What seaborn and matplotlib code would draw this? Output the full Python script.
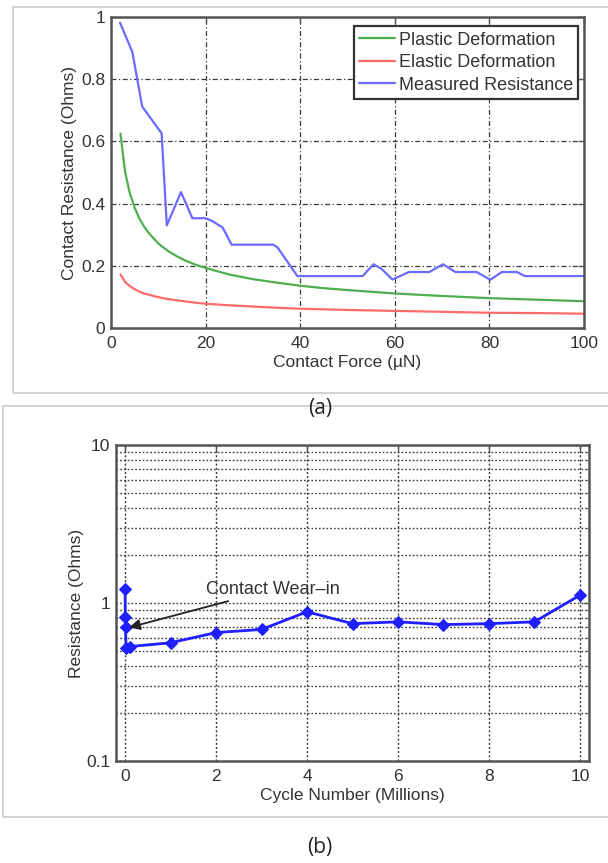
import matplotlib
matplotlib.use("Agg")
import matplotlib.pyplot as plt
from matplotlib.patches import Rectangle
from matplotlib.ticker import LogLocator, FixedLocator, NullFormatter, FixedFormatter
import seaborn as sns
import pandas as pd
import numpy as np

# ---- (a) contact resistance vs. contact force ----
force_model = [2, 3, 4, 5, 6, 7, 8, 10, 12, 14, 16, 18, 20, 25, 30, 35, 40, 45,
               50, 60, 70, 80, 90, 100]
plastic = [0.625, 0.500, 0.432, 0.387, 0.352, 0.326, 0.305, 0.272, 0.248, 0.230,
           0.215, 0.203, 0.193, 0.172, 0.157, 0.146, 0.136, 0.128, 0.122, 0.111,
           0.103, 0.096, 0.091, 0.086]
elastic = [0.172, 0.148, 0.134, 0.125, 0.117, 0.111, 0.107, 0.099, 0.093, 0.089,
           0.085, 0.081, 0.078, 0.073, 0.069, 0.065, 0.062, 0.060, 0.058, 0.055,
           0.052, 0.049, 0.048, 0.046]
force_meas = [1.9, 4.5, 6.6, 10.7, 11.8, 14.8, 17.2, 20.0, 21.4, 23.6, 25.5, 34.3,
              35.2, 39.4, 53.2, 55.5, 57.2, 59.5, 63.0, 67.3, 70.2, 72.8, 77.3,
              80.2, 82.6, 85.8, 87.5, 100]
measured = [0.982, 0.888, 0.712, 0.626, 0.330, 0.437, 0.353, 0.353, 0.344, 0.323,
            0.268, 0.268, 0.259, 0.167, 0.167, 0.205, 0.190, 0.156, 0.180, 0.180,
            0.205, 0.180, 0.180, 0.155, 0.180, 0.180, 0.167, 0.167]
series_names = ["Plastic Deformation", "Elastic Deformation", "Measured Resistance"]
series_colors = ["#4fae4f", "#ff6b6b", "#6b6bff"]
force_ticks = [0, 20, 40, 60, 80, 100]
res_ticks = [0, 0.2, 0.4, 0.6, 0.8, 1]
res_tick_labels = ["0", "0.2", "0.4", "0.6", "0.8", "1"]

# ---- (b) resistance vs. cycle number ----
cycles = [0, 0.005, 0.01, 0.02, 0.1, 1, 2, 3, 4, 5, 6, 7, 8, 9, 10]
resistance = [1.22, 0.81, 0.70, 0.52, 0.53, 0.56, 0.65, 0.68, 0.88, 0.74, 0.76,
              0.73, 0.74, 0.76, 1.12]
cycle_ticks = [0, 2, 4, 6, 8, 10]
log_ticks = [0.1, 1, 10]
log_tick_labels = ["0.1", "1", "10"]

sns.set_style("white")
plt.rcParams["font.family"] = ["Liberation Sans", "DejaVu Sans"]
text_color = "#333333"
plt.rcParams["text.color"] = text_color
plt.rcParams["axes.labelcolor"] = text_color
plt.rcParams["xtick.color"] = text_color
plt.rcParams["ytick.color"] = text_color

W, H = 608, 863
fig = plt.figure(figsize=(W / 100, H / 100), dpi=100)


def fig_rect(x0, y0, x1, y1):
    return [x0 / W, 1 - y1 / H, (x1 - x0) / W, (y1 - y0) / H]


# light panel frames
for (x0, y0, x1, y1) in [(13, 7, 615, 393), (3, 406, 615, 817)]:
    fig.patches.append(Rectangle((x0 / W, 1 - y1 / H), (x1 - x0) / W, (y1 - y0) / H,
                                 transform=fig.transFigure, fill=False,
                                 edgecolor="#cfcfcf", lw=1.3))

spine_color = "#555555"
grid_kw = dict(color="#3a3a3a")


def style_axes(ax):
    for s in ax.spines.values():
        s.set_color(spine_color)
        s.set_linewidth(1.8)
    ax.tick_params(direction="in", top=True, right=True, length=4, width=1,
                   color=spine_color, labelsize=12.5)
    ax.tick_params(axis="x", pad=6)
    ax.tick_params(axis="y", pad=4)


# panel (a)
ax1 = fig.add_axes(fig_rect(111, 17, 584, 328))
df_a = pd.concat([
    pd.DataFrame({"force": force_model, "res": plastic, "series": series_names[0]}),
    pd.DataFrame({"force": force_model, "res": elastic, "series": series_names[1]}),
    pd.DataFrame({"force": force_meas, "res": measured, "series": series_names[2]}),
])
sns.lineplot(data=df_a, x="force", y="res", hue="series", hue_order=series_names,
             palette=series_colors, estimator=None, sort=False, lw=1.6, ax=ax1)
ax1.set_xlim(0, 100)
ax1.set_ylim(0, 1)
ax1.set_xticks(force_ticks)
ax1.set_yticks(res_ticks)
ax1.set_yticklabels(res_tick_labels)
ax1.grid(True, ls=(0, (4, 2, 1, 2)), lw=0.9, **grid_kw)
ax1.set_axisbelow(True)
style_axes(ax1)
ax1.set_xlabel("Contact Force (µN)", fontsize=12.5)
ax1.set_ylabel("Contact Resistance (Ohms)", fontsize=12.5)
ax1.xaxis.set_label_coords(0.5, -0.087)
ax1.yaxis.set_label_coords(-0.071, 0.5)
leg = ax1.legend(loc="upper right", bbox_to_anchor=(0.988, 0.970), borderaxespad=0,
                 fontsize=13, handlelength=2.0, handletextpad=0.2, labelspacing=0.3,
                 borderpad=0.3, fancybox=False, framealpha=1, title=None)
leg.get_frame().set_edgecolor("#333333")
leg.get_frame().set_linewidth(1.6)
for t in leg.get_texts():
    t.set_color(text_color)

fig.text(320 / W, 1 - 408 / H, "(a)", ha="center", va="center", fontsize=15,
         family=["Open Sans", "DejaVu Sans"], color="#222222")

# panel (b)
ax2 = fig.add_axes(fig_rect(116, 445, 589, 761))
df_b = pd.DataFrame({"cycles": cycles, "res": resistance})
sns.lineplot(data=df_b, x="cycles", y="res", estimator=None, sort=False,
             color="#1f1fff", lw=2.0, marker="D", markersize=6,
             markeredgecolor="#1f1fff", ax=ax2)
ax2.set_yscale("log")
ax2.set_xlim(-0.2, 10.2)
ax2.set_ylim(0.1, 10)
ax2.set_xticks(cycle_ticks)
ax2.yaxis.set_major_locator(FixedLocator(log_ticks))
ax2.yaxis.set_major_formatter(FixedFormatter(log_tick_labels))
ax2.yaxis.set_minor_locator(LogLocator(base=10, subs=np.arange(2, 10)))
ax2.yaxis.set_minor_formatter(NullFormatter())
ax2.grid(True, which="both", ls=(0, (1.2, 1.5)), lw=1.0, **grid_kw)
ax2.grid(True, which="major", axis="x", ls=(0, (1.5, 1.5)), lw=1.0, **grid_kw)
ax2.set_axisbelow(True)
style_axes(ax2)
ax2.tick_params(which="minor", direction="in", right=True, length=2.5,
                color=spine_color)
ax2.set_xlabel("Cycle Number (Millions)", fontsize=12.5)
ax2.set_ylabel("Resistance (Ohms)", fontsize=12.5)
ax2.xaxis.set_label_coords(0.5, -0.085)
ax2.yaxis.set_label_coords(-0.067, 0.5)
ax2.annotate("Contact Wear\u2013in", xy=(0.09, 0.70), xytext=(1.77, 1.22),
             ha="left", va="center", fontsize=13, color=text_color,
             arrowprops=dict(arrowstyle="-|>", color="#222222", lw=1.3,
                             mutation_scale=16, shrinkA=0, shrinkB=0))

fig.text(320 / W, 1 - 847 / H, "(b)", ha="center", va="center", fontsize=15,
         family=["Open Sans", "DejaVu Sans"], color="#222222")

fig.savefig("out.png", dpi=100)
